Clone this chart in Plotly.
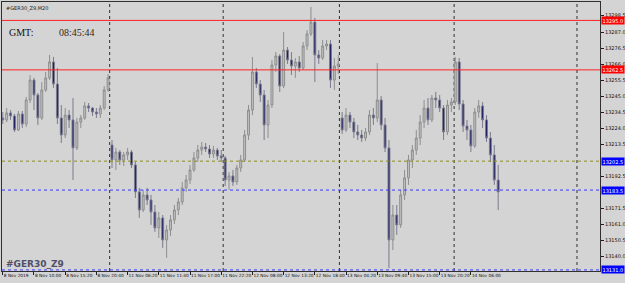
import plotly.graph_objects as go

opens = [13230.9,13229.6,13234.2,13232.2,13223.0,13233.5,13226.9,13242.7,13255.8,13246.0,
13230.9,13249.3,13257.2,13267.7,13253.2,13230.9,13219.7,13232.8,13229.6,13211.2,
13228.2,13230.9,13238.8,13237.4,13234.8,13233.5,13237.4,13249.3,13213.1,13203.3,
13208.5,13203.3,13206.6,13208.5,13200.0,13182.3,13170.4,13180.3,13177.0,13169.1,
13158.6,13165.2,13150.7,13157.3,13163.9,13170.4,13175.7,13184.9,13190.1,13196.7,
13204.6,13209.8,13211.8,13210.5,13207.2,13209.8,13205.9,13204.6,13190.1,13192.8,
13188.8,13198.0,13203.3,13219.7,13236.1,13261.1,13253.2,13246.0,13226.3,13239.4,
13265.7,13271.6,13251.9,13275.5,13269.0,13265.0,13267.7,13263.7,13278.2,13286.1,
13293.9,13272.3,13270.3,13278.2,13279.5,13255.8,13265.0,13230.9,13223.0,13232.8,
13228.2,13221.7,13219.7,13217.7,13221.7,13232.8,13230.9,13242.7,13226.3,13211.2,
13150.7,13167.1,13160.6,13180.3,13191.5,13203.3,13209.8,13217.7,13228.2,13237.4,
13229.6,13244.0,13242.7,13237.4,13221.7,13239.4,13241.4,13267.7,13240.1,13225.6,
13223.0,13212.5,13234.8,13238.8,13229.6,13217.7,13206.6,13190.1]
highs = [13234.8,13237.4,13236.1,13233.5,13235.5,13235.5,13244.7,13259.1,13257.2,13247.3,
13254.5,13261.1,13272.3,13271.0,13263.7,13239.4,13237.4,13236.1,13244.0,13230.9,
13232.8,13241.4,13240.7,13238.1,13237.4,13239.4,13251.9,13259.8,13216.4,13211.2,
13209.8,13208.5,13211.2,13209.8,13202.0,13184.9,13183.6,13184.9,13180.3,13173.7,
13169.1,13167.1,13160.6,13167.1,13173.7,13178.3,13188.8,13193.4,13200.0,13208.5,
13213.1,13215.1,13214.4,13213.1,13212.5,13211.2,13209.8,13205.9,13195.4,13196.7,
13200.0,13206.6,13223.0,13239.4,13271.0,13263.7,13255.8,13249.3,13242.7,13269.0,
13274.2,13272.9,13287.4,13277.5,13274.2,13270.3,13271.6,13280.8,13288.7,13303.8,
13296.6,13275.5,13282.1,13282.1,13282.1,13270.3,13272.3,13234.8,13237.4,13234.8,
13230.9,13226.3,13223.0,13224.3,13236.1,13237.4,13267.0,13245.3,13230.9,13216.4,
13173.7,13173.7,13183.6,13196.7,13206.6,13213.1,13223.0,13232.8,13242.7,13244.0,
13246.0,13248.0,13246.0,13239.4,13242.7,13244.0,13271.0,13270.3,13242.7,13229.6,
13226.3,13237.4,13242.7,13241.4,13232.8,13221.7,13213.1,13200.0]
lows = [13226.9,13228.2,13229.6,13221.7,13222.3,13224.3,13225.0,13240.7,13236.1,13226.3,
13229.6,13248.0,13255.8,13250.6,13226.9,13214.4,13217.7,13224.3,13190.1,13209.8,
13224.3,13229.6,13234.8,13232.2,13230.9,13230.9,13236.1,13248.0,13198.0,13196.7,
13200.0,13199.3,13203.3,13198.0,13178.3,13165.2,13169.1,13173.7,13160.6,13156.0,
13152.0,13145.5,13138.9,13153.3,13161.2,13167.1,13173.7,13182.3,13187.5,13195.4,
13202.0,13206.6,13208.5,13204.6,13204.6,13203.3,13202.0,13186.2,13183.6,13186.2,
13186.9,13195.4,13202.0,13216.4,13232.8,13250.6,13241.4,13216.4,13217.7,13237.4,
13261.1,13248.0,13250.6,13266.4,13259.1,13257.2,13261.1,13262.4,13275.5,13284.7,
13254.5,13266.4,13269.0,13275.5,13250.6,13249.3,13259.8,13220.4,13221.7,13224.3,
13217.7,13216.4,13215.1,13215.8,13219.7,13226.3,13228.2,13223.0,13208.5,13132.3,
13144.1,13154.0,13158.6,13177.0,13186.9,13198.0,13206.6,13213.1,13224.3,13226.3,
13228.2,13237.4,13234.8,13216.4,13219.7,13234.8,13239.4,13236.1,13221.7,13216.4,
13208.5,13211.2,13230.9,13224.3,13215.1,13202.0,13186.9,13170.4]
closes = [13229.6,13234.2,13232.2,13223.0,13233.5,13226.9,13242.7,13255.8,13246.0,13230.9,
13249.3,13257.2,13267.7,13253.2,13230.9,13219.7,13232.8,13229.6,13211.2,13228.2,
13230.9,13238.8,13237.4,13234.8,13233.5,13237.4,13249.3,13257.2,13203.3,13208.5,
13203.3,13206.6,13208.5,13200.0,13182.3,13170.4,13180.3,13177.0,13169.1,13158.6,
13165.2,13150.7,13157.3,13163.9,13170.4,13175.7,13184.9,13190.1,13196.7,13204.6,
13209.8,13211.8,13210.5,13207.2,13209.8,13205.9,13204.6,13190.1,13192.8,13188.8,
13198.0,13203.3,13219.7,13236.1,13261.1,13253.2,13246.0,13226.3,13239.4,13265.7,
13271.6,13251.9,13275.5,13269.0,13265.0,13267.7,13263.7,13278.2,13286.1,13293.9,
13272.3,13270.3,13278.2,13279.5,13255.8,13265.0,13266.4,13223.0,13232.8,13228.2,
13221.7,13219.7,13217.7,13221.7,13232.8,13230.9,13242.7,13226.3,13211.2,13150.7,
13167.1,13160.6,13180.3,13191.5,13203.3,13209.8,13217.7,13228.2,13237.4,13229.6,
13244.0,13242.7,13237.4,13221.7,13239.4,13241.4,13267.7,13240.1,13225.6,13223.0,
13212.5,13234.8,13238.8,13229.6,13217.7,13206.6,13190.1,13182.3]

bars = list(range(len(closes)))

x_tick_bars = [0, 8, 16, 24, 32, 40, 48, 56, 64, 72, 80, 88, 96, 104, 112, 120]
x_tick_labels = ["8 Nov 2019", "8 Nov 10:00", "8 Nov 15:20", "8 Nov 20:40",
                 "11 Nov 06:20", "11 Nov 11:40", "11 Nov 17:00", "11 Nov 22:20",
                 "12 Nov 08:00", "12 Nov 13:20", "12 Nov 18:40", "13 Nov 04:20",
                 "13 Nov 09:40", "13 Nov 15:00", "13 Nov 20:20", "14 Nov 06:00"]
y_tick_vals = [13298.5, 13287.0, 13276.5, 13266.0, 13255.5, 13245.0, 13234.5,
               13224.0, 13213.5, 13192.5, 13171.5, 13161.0, 13150.5, 13140.0]
day_separators = [27.4, 56.5, 86.3, 115.7, 147.2]
red_levels = [13295.0, 13262.5]
olive_levels = [13202.5]
blue_levels = [13183.5, 13131.0]

BG = "#d4d4d4"
fig = go.Figure()
fig.add_trace(go.Candlestick(
    x=bars, open=opens, high=highs, low=lows, close=closes,
    increasing=dict(line=dict(color="#8e8e8e", width=1), fillcolor="#c2c2c2"),
    decreasing=dict(line=dict(color="#7a7a8e", width=1), fillcolor="#1c1c60"),
    whiskerwidth=0, hoverinfo="skip"))

shapes = []
for xs in day_separators:
    shapes.append(dict(type="line", xref="x", yref="paper", x0=xs, x1=xs, y0=0, y1=1,
                       line=dict(color="#303030", width=1, dash="dot"), layer="below"))
for lv in red_levels:
    shapes.append(dict(type="line", xref="paper", yref="y", x0=0, x1=1, y0=lv, y1=lv,
                       line=dict(color="#ff2020", width=1)))
for lv in olive_levels:
    shapes.append(dict(type="line", xref="paper", yref="y", x0=0, x1=1, y0=lv, y1=lv,
                       line=dict(color="#8c8c20", width=1, dash="dot")))
for lv in blue_levels:
    shapes.append(dict(type="line", xref="paper", yref="y", x0=0, x1=1, y0=lv, y1=lv,
                       line=dict(color="#3a3aff", width=1, dash="dot")))

annotations = []
for lv, col in [(v, "#ff0000") for v in red_levels] + [(v, "#0000ff") for v in olive_levels + blue_levels]:
    annotations.append(dict(xref="paper", yref="y", x=1.002, y=lv, text=f"{lv:.1f}",
                            showarrow=False, xanchor="left", yanchor="middle",
                            font=dict(family="DejaVu Sans", size=5, color="white"),
                            bgcolor=col, borderpad=0.5))
annotations += [
    dict(xref="paper", yref="paper", x=0.004, y=0.995, text="#GER30_Z9,M20", showarrow=False,
         xanchor="left", yanchor="top", font=dict(family="DejaVu Sans", size=5, color="#202020")),
    dict(xref="paper", yref="paper", x=0.009, y=0.885, text="GMT:", showarrow=False,
         xanchor="left", yanchor="middle", font=dict(family="Liberation Serif", size=10, color="#101010")),
    dict(xref="paper", yref="paper", x=0.092, y=0.885, text="08:45:44", showarrow=False,
         xanchor="left", yanchor="middle", font=dict(family="Liberation Serif", size=10, color="#3a2410")),
    dict(xref="paper", yref="paper", x=0.003, y=0.0, text="<b>#GER30_Z9</b>", showarrow=False,
         xanchor="left", yanchor="bottom", font=dict(family="DejaVu Sans", size=9, color="#50506a")),
]

fig.update_layout(
    width=625, height=283, margin=dict(l=2, r=25, t=2, b=12, autoexpand=False),
    paper_bgcolor=BG, plot_bgcolor=BG, showlegend=False,
    shapes=shapes, annotations=annotations,
    xaxis=dict(range=[-0.2, 153.1], rangeslider=dict(visible=False), showgrid=False, zeroline=False,
               tickvals=x_tick_bars, ticktext=x_tick_labels, ticks="outside", ticklen=3,
               tickangle=0, automargin=False,
               tickcolor="#202020", ticklabelposition="outside right",
               tickfont=dict(family="DejaVu Sans", size=4.3, color="#101010"),
               showline=True, linecolor="#303030", linewidth=1, mirror=True),
    yaxis=dict(range=[13130.3, 13307.1], side="right", showgrid=False, zeroline=False,
               tickvals=y_tick_vals, ticktext=[f"{v:.1f}" for v in y_tick_vals],
               ticks="outside", ticklen=3, tickcolor="#202020", automargin=False,
               tickfont=dict(family="DejaVu Sans", size=5, color="#101010"),
               showline=True, linecolor="#303030", linewidth=1, mirror=True),
)

fig.write_html("out.html")
